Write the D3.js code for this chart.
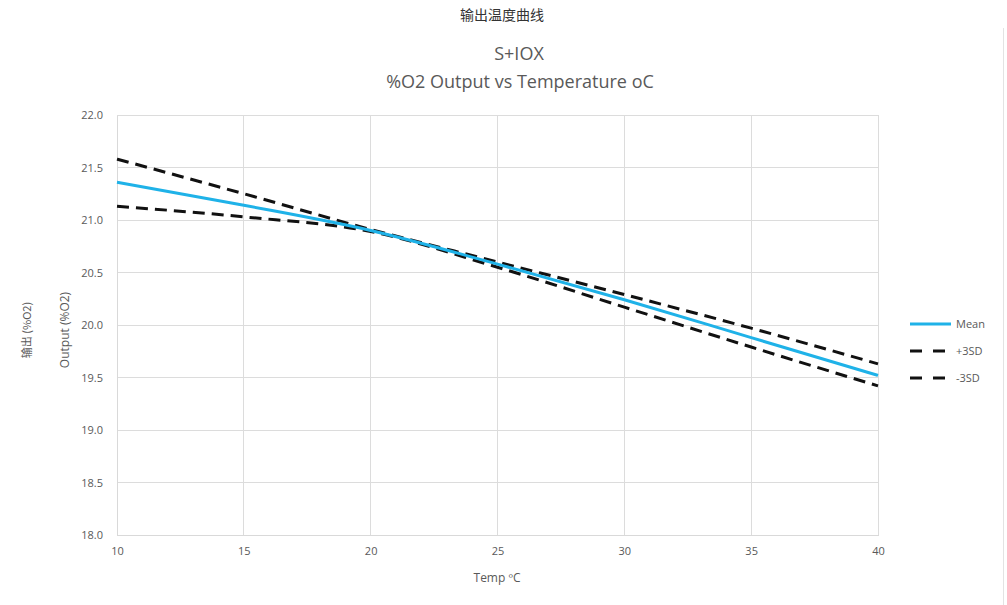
<!DOCTYPE html>
<meta charset="utf-8">
<style>
  html, body { margin: 0; padding: 0; background: #fff; overflow: hidden; }
  text { font-family: "Open Sans", "Noto Sans", sans-serif; fill: #595959; }
  .cjk { font-family: "Noto Sans CJK SC", sans-serif; }
  .grid line { stroke: #dcdcdc; stroke-width: 1px; shape-rendering: crispEdges; }
  .axis path, .axis line { stroke: #d9d9d9; shape-rendering: crispEdges; }
  .axis text { font-size: 11px; fill: #595959; }
  .line { fill: none; }
</style>
<body>
<svg></svg>
<script src="https://d3js.org/d3.v7.min.js"></script>
<script>

// values
var temps = [10, 15, 20, 25, 30, 35, 40];
var meanVals = [21.36, 21.14, 20.90, 20.58, 20.24, 19.88, 19.52];
var plusVals = [21.58, 21.25, 20.91, 20.60, 20.29, 19.97, 19.63];
var minusVals = [21.13, 21.03, 20.89, 20.55, 20.17, 19.79, 19.42];
var xTicks = [10, 15, 20, 25, 30, 35, 40];
var yTicks = [18.0, 18.5, 19.0, 19.5, 20.0, 20.5, 21.0, 21.5, 22.0];
var seriesNames = ["Mean", "+3SD", "-3SD"];

var W = 1007, H = 605;
var margin = {top: 115, right: 129, bottom: 70, left: 117},
    width = W - margin.left - margin.right,
    height = H - margin.top - margin.bottom;

var svg = d3.select("svg").attr("width", W).attr("height", H);

// frame edge on the right
svg.append("line")
  .attr("x1", 1003.5).attr("x2", 1003.5)
  .attr("y1", 28).attr("y2", H)
  .attr("stroke", "#e3e3e3");

svg.append("text")
  .attr("class", "cjk")
  .attr("x", 502).attr("y", 20)
  .attr("text-anchor", "middle")
  .style("font-size", "14px")
  .style("fill", "#333")
  .text("输出温度曲线");

svg.append("text")
  .attr("x", 519).attr("y", 60)
  .attr("text-anchor", "middle")
  .style("font-size", "18px")
  .text("S+IOX");

svg.append("text")
  .attr("x", 520).attr("y", 88)
  .attr("text-anchor", "middle")
  .style("font-size", "18px")
  .text("%O2 Output vs Temperature oC");

var g = svg.append("g")
  .attr("transform", "translate(" + margin.left + "," + margin.top + ")");

var x = d3.scaleLinear().domain([10, 40]).range([0, width]);
var y = d3.scaleLinear().domain([18, 22]).range([height, 0]);

// grid
g.append("g").attr("class", "grid")
  .selectAll("line.h").data(yTicks).enter().append("line")
    .attr("x1", 0).attr("x2", width)
    .attr("y1", function(d) { return y(d); })
    .attr("y2", function(d) { return y(d); });

g.append("g").attr("class", "grid")
  .selectAll("line.v").data(xTicks).enter().append("line")
    .attr("y1", 0).attr("y2", height)
    .attr("x1", function(d) { return x(d); })
    .attr("x2", function(d) { return x(d); });

g.append("g")
  .attr("class", "axis axis--x")
  .attr("transform", "translate(0," + height + ")")
  .call(d3.axisBottom(x).tickValues(xTicks).tickSize(0).tickPadding(12))
  .call(function(a) { a.select(".domain").attr("stroke", "#d9d9d9"); });

g.append("g")
  .attr("class", "axis axis--y")
  .call(d3.axisLeft(y).tickValues(yTicks).tickFormat(d3.format(".1f")).tickSize(0).tickPadding(14))
  .call(function(a) { a.select(".domain").attr("stroke", "#d9d9d9"); });

svg.append("text")
  .attr("x", 497).attr("y", 582)
  .attr("text-anchor", "middle")
  .style("font-size", "12px")
  .text("Temp ºC");

svg.append("text")
  .attr("transform", "translate(69,330) rotate(-90)")
  .attr("text-anchor", "middle")
  .style("font-size", "12px")
  .text("Output (%O2)");

svg.append("text")
  .attr("class", "cjk")
  .attr("transform", "translate(31,330) rotate(-90)")
  .attr("text-anchor", "middle")
  .style("font-size", "11px")
  .text("输出 (%O2)");

var line = d3.line()
  .x(function(d) { return x(d[0]); })
  .y(function(d) { return y(d[1]); })
  .curve(d3.curveMonotoneX);

var series = [
  {name: seriesNames[0], vals: meanVals, color: "#1fb2e8", dash: null},
  {name: seriesNames[1], vals: plusVals, color: "#111", dash: "12,7"},
  {name: seriesNames[2], vals: minusVals, color: "#111", dash: "12,7"}
];

// dashed first, mean on top
[series[1], series[2], series[0]].forEach(function(s) {
  g.append("path")
    .datum(temps.map(function(t, i) { return [t, s.vals[i]]; }))
    .attr("class", "line")
    .attr("stroke", s.color)
    .attr("stroke-width", 3)
    .attr("stroke-dasharray", s.dash)
    .attr("d", line);
});

var legend = svg.append("g").attr("transform", "translate(910,324)");
series.forEach(function(s, i) {
  var row = legend.append("g").attr("transform", "translate(0," + (i * 27) + ")");
  row.append("line")
    .attr("x1", s.dash ? 0 : 0).attr("x2", s.dash ? 35 : 41)
    .attr("stroke", s.color)
    .attr("stroke-width", 3)
    .attr("stroke-dasharray", s.dash ? "12,11" : null);
  row.append("text")
    .attr("x", 46).attr("y", 4)
    .style("font-size", "11px")
    .text(s.name);
});

</script>
</body>
</html>
